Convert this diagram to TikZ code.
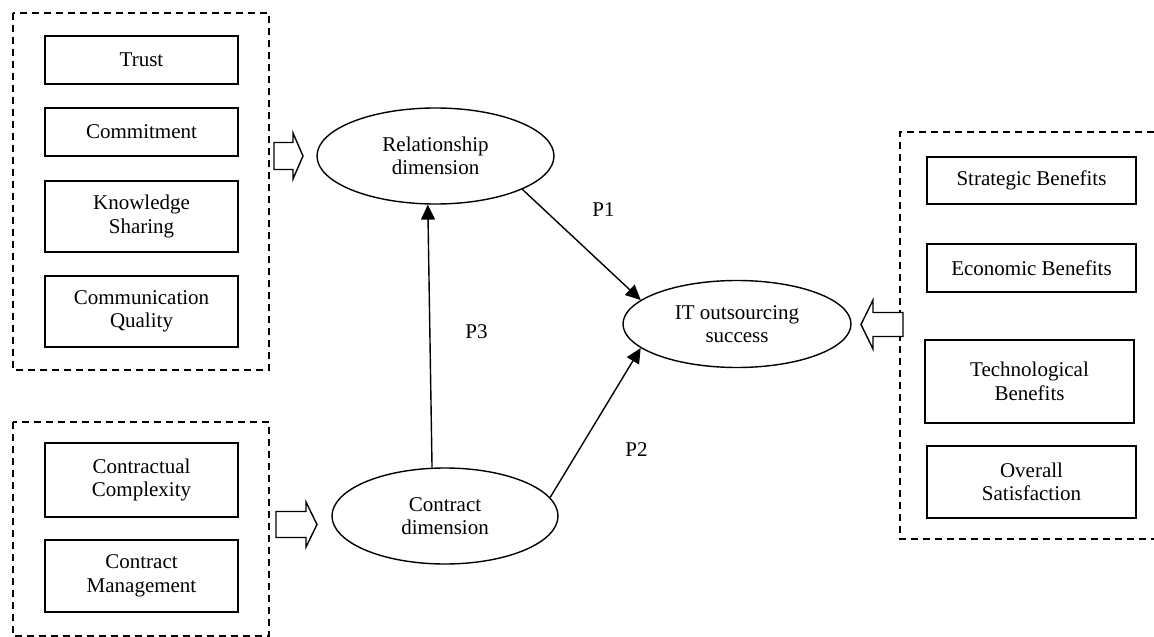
\documentclass[tikz,border=0pt]{standalone}
\usepackage{fontspec}
\setmainfont{Liberation Serif}
\usetikzlibrary{shapes.geometric,arrows.meta}
\tikzset{
  txt/.style={font=\fontsize{21bp}{23.5bp}\selectfont, align=center},
  itembox/.style={txt, draw, line width=1.4bp, inner sep=0pt, rectangle},
  construct/.style={txt, draw, line width=1.4bp, ellipse, inner sep=0pt},
  grp/.style={draw, line width=1.3bp, dash pattern=on 7bp off 5bp},
  hollow/.style={draw, line width=1.4bp, fill=white, line join=miter},
  link/.style={line width=1.4bp, -{Triangle[length=15bp,width=14bp]}},
  plab/.style={txt}
}
\begin{document}
\begin{tikzpicture}[x=1bp,y=-1bp]
\useasboundingbox (0,0) rectangle (1154,637);
% group frames
\draw[grp] (13,13) rectangle (269,370);
\draw[grp] (13,422) rectangle (269,636);
\draw[grp] (1154,132) -- (900,132) -- (900,539) -- (1154,539);
% left items
\node[itembox, minimum width=193bp, minimum height=48bp] (trust) at (141.5,60) {Trust};
\node[itembox, minimum width=193bp, minimum height=48bp] (commit) at (141.5,132) {Commitment};
\node[itembox, minimum width=193bp, minimum height=71bp] (know) at (141.5,216.5) {Knowledge\\Sharing};
\node[itembox, minimum width=193bp, minimum height=71bp] (comm) at (141.5,311.5) {Communication\\Quality};
\node[itembox, minimum width=193bp, minimum height=74bp] (cplx) at (141.5,480) {Contractual\\Complexity};
\node[itembox, minimum width=193bp, minimum height=72bp] (cmgmt) at (141.5,576) {Contract\\Management};
% right items
\node[itembox, minimum width=209bp, minimum height=47bp] (strat) at (1031.5,180.5) {Strategic Benefits};
\node[itembox, minimum width=209bp, minimum height=48bp] (econ) at (1031.5,268) {Economic Benefits};
\node[itembox, minimum width=209bp, minimum height=83bp] (tech) at (1029.5,381.5) {Technological\\Benefits};
\node[itembox, minimum width=209bp, minimum height=72bp] (overall) at (1031.5,482) {Overall\\Satisfaction};
% constructs
\node[construct, minimum width=237bp, minimum height=96bp] (rel) at (435.5,156) {Relationship\\dimension};
\node[construct, minimum width=226bp, minimum height=96bp] (con) at (445,516) {Contract\\dimension};
\node[construct, minimum width=228bp, minimum height=87bp] (it) at (737,324) {IT outsourcing\\success};
% hollow arrows
\draw[hollow] (274,142.5) -- (293,142.5) -- (293,133) -- (303,156) -- (293,179) -- (293,169.5) -- (274,169.5) -- cycle;
\draw[hollow] (276,511.5) -- (306,511.5) -- (306,502) -- (317,524.5) -- (306,547) -- (306,537.5) -- (276,537.5) -- cycle;
\draw[hollow] (903,312.5) -- (873,312.5) -- (873,300) -- (861,324.5) -- (873,349) -- (873,336.5) -- (903,336.5) -- cycle;
% hypothesis links
\draw[link] (rel.-21) -- (it.166);
\draw[link] (con.10) -- (it.194);
\draw[link] (con.105) -- (rel.-99);
% labels
\node[plab] (p1) at (603.5,210) {P1};
\node[plab] (p2) at (636.5,450) {P2};
\node[plab] (p3) at (476.5,332) {P3};
\end{tikzpicture}
\end{document}
